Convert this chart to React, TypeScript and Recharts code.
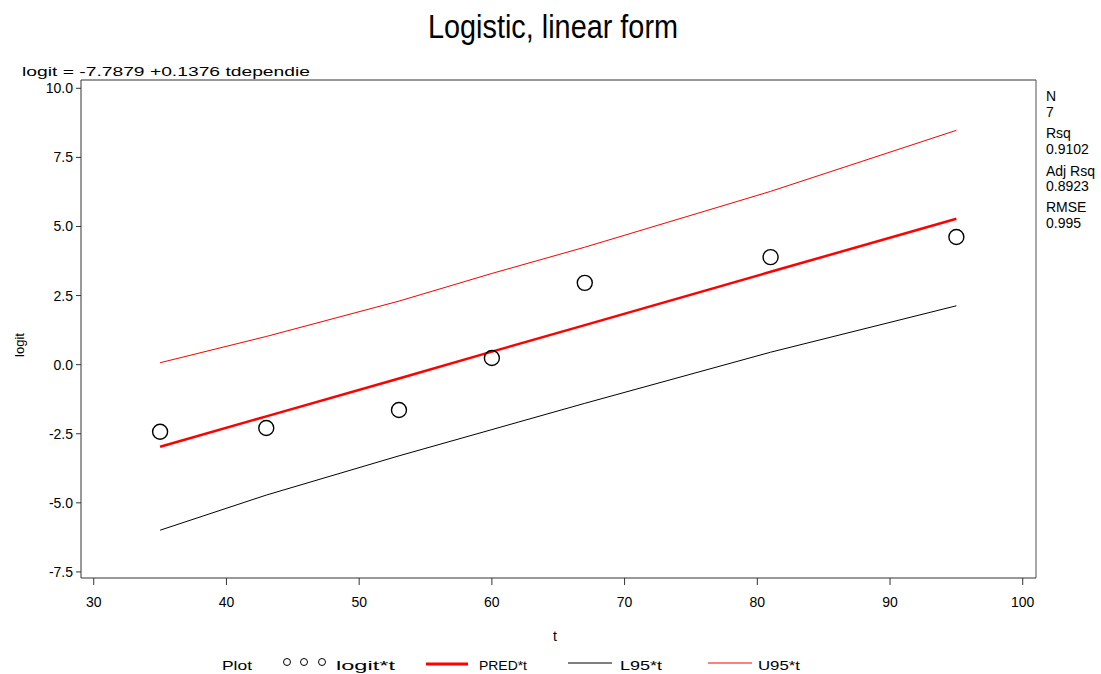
import { ComposedChart, Line, Scatter, XAxis, YAxis, ReferenceLine } from 'recharts';

// values
const tValues = [35, 43, 53, 60, 67, 81, 95];
const logitValues = [-2.43, -2.29, -1.64, 0.24, 2.96, 3.89, 4.62];
const predValues = [-2.97, -1.87, -0.5, 0.47, 1.43, 3.36, 5.28];
const lowerValues = [-5.99, -4.72, -3.3, -2.35, -1.4, 0.45, 2.13];
const upperValues = [0.07, 1.02, 2.3, 3.3, 4.25, 6.27, 8.48];

const xTicks = [30, 40, 50, 60, 70, 80, 90, 100];
const yTicks = [-7.5, -5.0, -2.5, 0.0, 2.5, 5.0, 7.5, 10.0];

const xDomain = [29.04, 101.0];
const yDomain = [-7.72, 10.3];

const statLines = ['N', '7', 'Rsq', '0.9102', 'Adj Rsq', '0.8923', 'RMSE', '0.995'];
const statY = [101, 117, 138, 154, 176, 191, 212, 228];

const data = tValues.map((t, i) => ({
  t,
  logit: logitValues[i],
  pred: predValues[i],
  lower: lowerValues[i],
  upper: upperValues[i],
}));

const FONT = '"Liberation Sans", Arial, sans-serif';

const Ring = (props: any) => {
  const { cx, cy } = props;
  if (cx == null || cy == null) return null;
  return <circle cx={cx} cy={cy} r={7.5} fill="none" stroke="#000" strokeWidth={1.4} />;
};

export default function App() {
  return (
    <div style={{ position: 'absolute', left: 0, top: 0, width: 1101, height: 674, background: '#fff', fontFamily: FONT }}>
      <ComposedChart
        width={1101}
        height={674}
        data={data}
        margin={{ top: 80, right: 65, bottom: 56, left: 0 }}
      >
        <XAxis
          type="number"
          dataKey="t"
          domain={xDomain}
          ticks={xTicks}
          allowDataOverflow
          height={40}
          tickSize={7}
          tickMargin={12}
          stroke="#333"
          tick={{ fill: '#000', fontSize: 14, fontFamily: FONT }}
        />
        <YAxis
          type="number"
          domain={yDomain}
          ticks={yTicks}
          allowDataOverflow
          width={81}
          tickSize={5}
          tickMargin={3}
          stroke="#333"
          tickFormatter={(v: number) => v.toFixed(1)}
          tick={{ fill: '#000', fontSize: 14, fontFamily: FONT }}
        />
        {/* frame: top and right edges */}
        <ReferenceLine y={yDomain[1]} stroke="#333" strokeWidth={1} />
        <ReferenceLine x={xDomain[1]} stroke="#555" strokeWidth={1} />
        <Line dataKey="upper" stroke="#ff0000" strokeWidth={1} dot={false} isAnimationActive={false} />
        <Line dataKey="lower" stroke="#000" strokeWidth={1} dot={false} isAnimationActive={false} />
        <Line dataKey="pred" stroke="#ff0000" strokeWidth={2.5} dot={false} isAnimationActive={false} />
        <Scatter dataKey="logit" shape={<Ring />} isAnimationActive={false} />
      </ComposedChart>

      <svg width={1101} height={674} style={{ position: 'absolute', left: 0, top: 0, pointerEvents: 'none' }} fontFamily={FONT}>
        <text x={428} y={38} fontSize={33} textLength={250} lengthAdjust="spacingAndGlyphs" fill="#000">
          Logistic, linear form
        </text>
        <text x={22} y={76} fontSize={13} textLength={288} lengthAdjust="spacingAndGlyphs" fill="#000">
          logit = -7.7879 +0.1376 tdependie
        </text>
        <text x={24} y={345} fontSize={13} textAnchor="middle" transform="rotate(-90 24 345)" fill="#000">
          logit
        </text>
        <text x={555} y={641} fontSize={14} textAnchor="middle" fill="#000">
          t
        </text>
        {statLines.map((s, i) => (
          <text key={s + i} x={1046} y={statY[i]} fontSize={14} fill="#000">
            {s}
          </text>
        ))}

        <g fontSize={13} fill="#000">
          <text x={222} y={670} textLength={30} lengthAdjust="spacingAndGlyphs">Plot</text>
          <circle cx={287} cy={662} r={3.5} fill="none" stroke="#000" strokeWidth={1} />
          <circle cx={304} cy={662} r={3.5} fill="none" stroke="#000" strokeWidth={1} />
          <circle cx={322} cy={662} r={3.5} fill="none" stroke="#000" strokeWidth={1} />
          <text x={336} y={670} textLength={59} lengthAdjust="spacingAndGlyphs">logit*t</text>
          <line x1={426} y1={664} x2={468} y2={664} stroke="#ff0000" strokeWidth={3} />
          <text x={479} y={670} textLength={48} lengthAdjust="spacingAndGlyphs">PRED*t</text>
          <line x1={568} y1={663} x2={612} y2={663} stroke="#000" strokeWidth={1} />
          <text x={620} y={670} textLength={42} lengthAdjust="spacingAndGlyphs">L95*t</text>
          <line x1={708} y1={663} x2={752} y2={663} stroke="#ff0000" strokeWidth={1} />
          <text x={758} y={670} textLength={42} lengthAdjust="spacingAndGlyphs">U95*t</text>
        </g>
      </svg>
    </div>
  );
}
